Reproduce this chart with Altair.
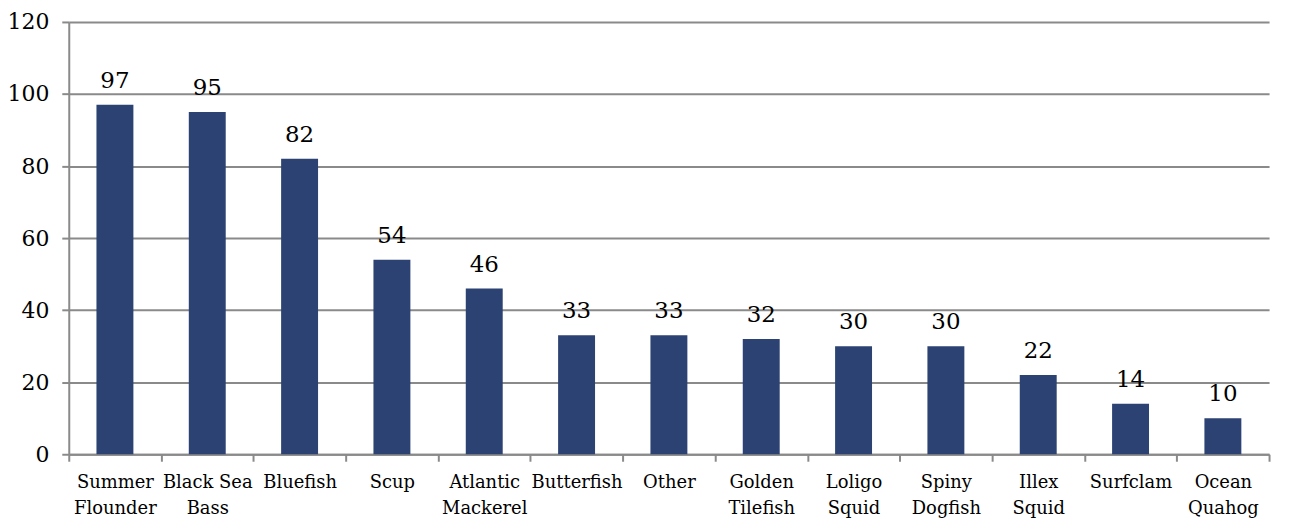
import altair as alt
import pandas as pd

species = ["Summer|Flounder", "Black Sea|Bass", "Bluefish", "Scup", "Atlantic|Mackerel",
           "Butterfish", "Other", "Golden|Tilefish", "Loligo|Squid", "Spiny|Dogfish",
           "Illex|Squid", "Surfclam", "Ocean|Quahog"]
values = [97, 95, 82, 54, 46, 33, 33, 32, 30, 30, 22, 14, 10]
y_ticks = [0, 20, 40, 60, 80, 100, 120]

df = pd.DataFrame({"species": species, "value": values})

FONT = "DejaVu Serif, serif"
GRID = "#8a8a8a"

x = alt.X("species:N", sort=species, title=None,
          scale=alt.Scale(paddingInner=0, paddingOuter=0),
          axis=alt.Axis(labelAngle=0, labelExpr="split(datum.label, '|')",
                        labelFont=FONT, labelFontSize=18, labelColor="#000",
                        labelLineHeight=26, labelPadding=12,
                        tickBand="extent", tickSize=7, tickColor=GRID, tickWidth=2,
                        domainColor=GRID, domainWidth=2, grid=False))
y = alt.Y("value:Q", title=None,
          scale=alt.Scale(domain=[0, 120], nice=False),
          axis=alt.Axis(values=y_ticks, labelFont=FONT, labelFontSize=22, labelColor="#000",
                        labelPadding=13, tickSize=7, tickColor=GRID, tickWidth=2,
                        domainColor=GRID, domainWidth=2,
                        grid=True, gridColor=GRID, gridWidth=2))

base = alt.Chart(df)
bars = base.mark_bar(color="#2b4272", width=alt.RelativeBandSize(0.4)).encode(x=x, y=y)
labels = base.mark_text(baseline="bottom", dy=-12, font=FONT, fontSize=23, color="#000").encode(
    x=alt.X("species:N", sort=species), y="value:Q", text="value:Q")

chart = (bars + labels).properties(
    width=1205, height=434,
    autosize=alt.AutoSizeParams(type="none"),
    padding={"left": 61, "top": 13, "right": 12, "bottom": 64},
).configure_view(stroke=None)

chart.save("out.html", embed_options={"renderer": "svg", "actions": False})
